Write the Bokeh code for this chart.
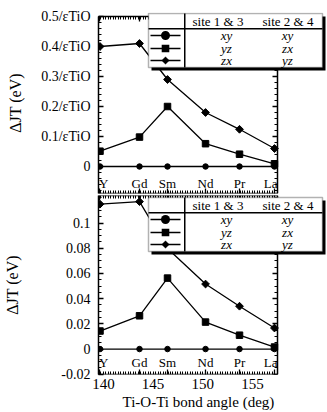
import numpy as np
from bokeh.plotting import figure
from bokeh.layouts import column
from bokeh.models import (LinearAxis, FixedTicker, Range1d, Label, BoxAnnotation,
                          PolyAnnotation, ColumnDataSource, Title)
from bokeh.core.properties import value
from bokeh.embed import file_html
from bokeh.resources import INLINE

# ---------------- data ----------------
elements = ["Y", "Gd", "Sm", "Nd", "Pr", "La"]
bond_angle = [139.65, 143.63, 146.45, 150.28, 153.7, 157.22]

# upper panel, in units of 1/eps_TiO
top_xy = [0.0, 0.0, 0.0, 0.0, 0.0, 0.0]
top_yz = [0.051, 0.098, 0.200, 0.076, 0.041, 0.009]
top_zx = [0.400, 0.410, 0.290, 0.180, 0.124, 0.060]

# lower panel, in eV
bottom_xy = [0.0, 0.0, 0.0, 0.0, 0.0, 0.0]
bottom_yz = [0.0143, 0.0264, 0.0563, 0.0214, 0.0110, 0.0016]
bottom_zx = [0.1150, 0.1170, 0.0798, 0.0516, 0.0340, 0.0167]

top_yticks = [0.0, 0.1, 0.2, 0.3, 0.4, 0.5]
top_ytick_labels = ["0", "0.1/εTiO", "0.2/εTiO", "0.3/εTiO", "0.4/εTiO", "0.5/εTiO"]
bottom_yticks = [-0.02, 0.0, 0.02, 0.04, 0.06, 0.08, 0.1]
bottom_ytick_labels = ["-0.02", "0", "0.02", "0.04", "0.06", "0.08", "0.1"]
xticks = [140, 145, 150, 155]
xtick_labels = ["140", "145", "150", "155"]

legend_header = ["site 1 & 3", "site 2 & 4"]
legend_site13 = ["xy", "yz", "zx"]
legend_site24 = ["xy", "zx", "yz"]
x_title = "Ti-O-Ti bond angle (deg)"
y_title = "ΔJT (eV)"

# ---------------- layout / style ----------------
SERIF = "Liberation Serif"
W = 327
ML = 98
PX_PER_DEG = 9.93
X0, X_BOX_END = 139.5, 157.53          # drawn box spans these angles
FRAME_W = W - ML
X_VIEW_END = X0 + FRAME_W / PX_PER_DEG  # frame extends under the legend

TOP_PPU, BOT_PPU = 300.0, 1260.0
TOP_BOX = (-0.09, 0.5)
TOP_FH = 181
TOP_Y = (TOP_BOX[0], TOP_BOX[0] + TOP_FH / TOP_PPU)
BOT_FH = 179
BOT_Y = (-0.0202, -0.0202 + BOT_FH / BOT_PPU)

XMINOR = np.round(np.arange(139.5, 157.6, 0.25), 3).tolist()


def tick_axis(p, side, minor_vals, major_vals, fixed, bounds):
    for vals, ln, draw_line in ((minor_vals, 3, True), (major_vals, 5, False)):
        ax = LinearAxis(ticker=FixedTicker(ticks=[], minor_ticks=list(vals)),
                        fixed_location=fixed, bounds=bounds)
        ax.axis_line_color = "black" if draw_line else None
        ax.axis_line_width = 1.5
        ax.minor_tick_line_color = "black"
        ax.minor_tick_line_width = 1 if draw_line else 1.3
        ax.minor_tick_in = ln
        ax.minor_tick_out = 0
        ax.major_tick_in = 0
        ax.major_tick_out = 0
        ax.major_label_standoff = 0
        ax.axis_label_standoff = 0
        p.add_layout(ax, side)


def make_fig(height, yr, box_y, mt, mb, yticks, ylabels, yminor, top_fixed, title_standoff, title_bounds):
    p = figure(width=W, height=height, x_range=Range1d(X0, X_VIEW_END), y_range=Range1d(*yr),
               output_backend="svg", toolbar_location=None,
               x_axis_location=None, y_axis_location=None,
               min_border_left=ML, min_border_right=0,
               min_border_top=mt, min_border_bottom=mb)
    p.grid.visible = False
    p.outline_line_color = None
    p.background_fill_color = "white"
    p.border_fill_color = "white"

    left = LinearAxis(ticker=FixedTicker(ticks=yticks, minor_ticks=yminor), bounds=box_y,
                      major_label_overrides={float(t): l for t, l in zip(yticks, ylabels)})
    left.axis_line_color = "black"
    left.axis_line_width = 1.5
    left.major_tick_line_color = "black"
    left.major_tick_line_width = 1.3
    left.minor_tick_line_color = "black"
    left.major_tick_in, left.major_tick_out = 5, 0
    left.minor_tick_in, left.minor_tick_out = 3, 0
    left.major_label_text_font = SERIF
    left.major_label_text_font_size = "14px"
    left.major_label_text_color = "black"
    left.major_label_standoff = 8
    p.add_layout(left, "left")

    # outer left axis that only carries the axis title
    t_ax = LinearAxis(ticker=FixedTicker(ticks=[], minor_ticks=[]), bounds=title_bounds, axis_label=y_title)
    t_ax.axis_line_color = None
    t_ax.major_tick_in = t_ax.major_tick_out = 0
    t_ax.minor_tick_in = t_ax.minor_tick_out = 0
    t_ax.major_label_standoff = 0
    t_ax.axis_label_standoff = title_standoff
    t_ax.axis_label_text_font = SERIF
    t_ax.axis_label_text_font_style = "normal"
    t_ax.axis_label_text_font_size = "16px"
    t_ax.axis_label_text_color = "black"
    p.add_layout(t_ax, "left")

    tick_axis(p, "right", yminor, yticks, X_BOX_END, box_y)
    tick_axis(p, "above", XMINOR, bond_angle, top_fixed, (X0, X_BOX_END))
    tick_axis(p, "below", XMINOR, bond_angle, yr[0], (X0, X_BOX_END))
    return p


def draw_series(p, xy, yz, zx):
    src = ColumnDataSource(dict(x=bond_angle, xy=xy, yz=yz, zx=zx))
    for col in ("xy", "yz", "zx"):
        p.line("x", col, source=src, line_color="black", line_width=1.3)
    p.scatter("x", "xy", source=src, marker="circle", size=5.5, fill_color="black", line_color="black")
    p.scatter("x", "yz", source=src, marker="square", size=6.5, fill_color="black", line_color="black")
    p.scatter("x", "zx", source=src, marker="square", angle=np.pi / 4, size=5.5,
              fill_color="black", line_color="black")


def element_labels(p, ybase):
    kw = dict(text_font=value(SERIF), text_font_size="13px", text_color="black",
              text_baseline="alphabetic")
    p.text(x=bond_angle[:1], y=[ybase], text=elements[:1], text_align="left", x_offset=-1, **kw)
    p.text(x=bond_angle[1:-1], y=[ybase] * 4, text=elements[1:-1], text_align="center", **kw)
    p.text(x=bond_angle[-1:], y=[ybase], text=elements[-1:], text_align="right", x_offset=3, **kw)


def add_site_legend(p, fh, T):
    def sy(r):
        return fh - r

    L, R = 50, 224
    B = T + 54

    def box(l, r, t, b, **kw):
        p.add_layout(BoxAnnotation(left=l, right=r, top=sy(t), bottom=sy(b),
                                   left_units="screen", right_units="screen",
                                   top_units="screen", bottom_units="screen", **kw))

    solid = dict(fill_color="black", fill_alpha=1, line_color=None)
    box(L + 3, R + 3, T + 3, B + 3, **solid)
    box(L, R, T, B, fill_color="white", fill_alpha=1, line_color="black", line_width=1.5)
    box(L, R, T + 14.5, T + 16, **solid)
    box(85.5, 87, T, B, **solid)

    for txt, cx in zip(legend_header, (119.5, 189.5)):
        p.add_layout(Label(x=cx, y=sy(T + 8), x_units="screen", y_units="screen", text=txt,
                           text_align="center", text_baseline="middle", text_font=SERIF,
                           text_font_size="13px", text_color="black"))
    rows = (T + 22, T + 35, T + 47)
    cx = 67
    for i, ry in enumerate(rows):
        box(52, 82, ry - 0.8, ry + 0.8, **solid)
        if i == 0:
            box(cx - 4.5, cx + 4.5, ry - 4.5, ry + 4.5, border_radius=5, **solid)
        elif i == 1:
            box(cx - 3.8, cx + 3.8, ry - 3.8, ry + 3.8, **solid)
        else:
            p.add_layout(PolyAnnotation(xs=[cx, cx + 3.8, cx, cx - 3.8],
                                        ys=[sy(ry - 3.8), sy(ry), sy(ry + 3.8), sy(ry)],
                                        xs_units="screen", ys_units="screen",
                                        fill_color="black", fill_alpha=1, line_color="black"))
        for txt, tx in ((legend_site13[i], 128), (legend_site24[i], 189)):
            p.add_layout(Label(x=tx, y=sy(ry), x_units="screen", y_units="screen", text=txt,
                               text_align="center", text_baseline="middle", text_font=SERIF,
                               text_font_style="italic", text_font_size="13px", text_color="black"))


# ---------------- upper panel ----------------
top_minor = np.round(np.arange(-0.08, 0.5001, 0.02), 4).tolist()
p1 = make_fig(194, TOP_Y, TOP_BOX, 12, 1, top_yticks, top_ytick_labels, top_minor,
              TOP_BOX[1], 15, (0.047, 0.26))
draw_series(p1, top_xy, top_yz, top_zx)
element_labels(p1, TOP_Y[0] + 10 / TOP_PPU)
add_site_legend(p1, TOP_FH, 1)

# ---------------- lower panel ----------------
bot_minor = np.round(np.arange(-0.02, 0.1226, 0.005), 4).tolist()
p2 = make_fig(218, BOT_Y, BOT_Y, 1, 38, bottom_yticks, bottom_ytick_labels, bot_minor,
              BOT_Y[1], 38, (0.0206, 0.0714))
num_axis = LinearAxis(ticker=FixedTicker(ticks=xticks, minor_ticks=[]),
                      major_label_overrides={int(t): l for t, l in zip(xticks, xtick_labels)})
num_axis.axis_line_color = None
num_axis.major_tick_in = num_axis.major_tick_out = 0
num_axis.minor_tick_in = num_axis.minor_tick_out = 0
num_axis.major_label_text_font = SERIF
num_axis.major_label_text_font_size = "15px"
num_axis.major_label_text_color = "black"
num_axis.major_label_standoff = 4
num_axis.axis_label_standoff = 0
p2.add_layout(num_axis, "below")
p2.add_layout(Title(text=x_title, align="left", offset=24, standoff=1, text_font=SERIF,
                    text_font_size="15px", text_font_style="normal", text_color="black"), "below")
draw_series(p2, bottom_xy, bottom_yz, bottom_zx)
element_labels(p2, BOT_Y[0] + 12 / BOT_PPU)
add_site_legend(p2, BOT_FH, 2)

layout = column(p1, p2, spacing=0)
open("out.html", "w").write(file_html(layout, INLINE))
